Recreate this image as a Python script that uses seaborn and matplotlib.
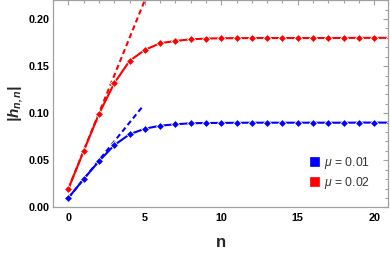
import numpy as np
import pandas as pd
import matplotlib
matplotlib.use("Agg")
import matplotlib.pyplot as plt
import seaborn as sns
from matplotlib.patches import Patch
from matplotlib.ticker import MultipleLocator

sns.set_theme(style="white")
plt.rcParams['font.family'] = ['Liberation Sans', 'DejaVu Sans']
plt.rcParams['mathtext.fontset'] = 'custom'
plt.rcParams['mathtext.it'] = 'Liberation Sans:italic'
plt.rcParams['mathtext.rm'] = 'Liberation Sans'
plt.rcParams['mathtext.bf'] = 'Liberation Sans:bold:italic'

n_vals = list(range(0, 22))
h_mu001 = [0.010, 0.030, 0.049, 0.066, 0.0776, 0.0835, 0.0867, 0.0882, 0.0893, 0.0896,
           0.0897, 0.0898, 0.0899, 0.0899, 0.0899, 0.0899, 0.0899, 0.0899, 0.0899, 0.0900,
           0.0900, 0.0900]
h_mu002 = [0.0195, 0.0598, 0.0991, 0.1318, 0.1555, 0.1672, 0.1743, 0.1767, 0.1785, 0.1792,
           0.1796, 0.1797, 0.1798, 0.1798, 0.1798, 0.1798, 0.1798, 0.1798, 0.1799, 0.1800,
           0.1800, 0.1800]
labels = ["mu001", "mu002"]
legend_labels = [r"$\mu$ = 0.01", r"$\mu$ = 0.02"]
colors = ["#0000ff", "#ff0000"]

# asymptotic (linear) approximations: endpoints
lin_n_001 = [0.0, 4.8]
lin_h_001 = [0.010, 0.106]
lin_n_002 = [0.0, 5.0]
lin_h_002 = [0.020, 0.220]

df = pd.DataFrame({
    "n": n_vals * 2,
    "h": h_mu001 + h_mu002,
    "mu": [labels[0]] * len(n_vals) + [labels[1]] * len(n_vals),
})
df_lin = pd.DataFrame({
    "n": lin_n_001 + lin_n_002,
    "h": lin_h_001 + lin_h_002,
    "mu": [labels[0]] * 2 + [labels[1]] * 2,
})

fig = plt.figure(figsize=(3.9, 2.56), dpi=100)
ax = fig.add_axes([0.136, 0.190, 0.859, 0.810])

sns.lineplot(data=df_lin, x="n", y="h", hue="mu", palette=colors, ax=ax,
             linewidth=1.5, legend=False, dashes=False)
for line in ax.get_lines():
    line.set_dashes([2.5, 1.6])
sns.lineplot(data=df, x="n", y="h", hue="mu", palette=colors, ax=ax,
             linewidth=1.5, marker="D", markersize=4.4, markeredgewidth=0.6,
             legend=False, clip_on=True)

ax.set_xlim(-1, 20.9)
ax.set_ylim(0, 0.2202)
ax.xaxis.set_major_locator(MultipleLocator(5))
ax.xaxis.set_minor_locator(MultipleLocator(1))
ax.yaxis.set_major_locator(MultipleLocator(0.05))
ax.yaxis.set_minor_locator(MultipleLocator(0.01))
ax.yaxis.set_major_formatter(matplotlib.ticker.FormatStrFormatter('%.2f'))

frame_col = "#a0a0a0"
for s in ax.spines.values():
    s.set_color(frame_col)
    s.set_linewidth(0.9)
ax.tick_params(which="both", direction="in", top=True, right=True, color=frame_col,
               width=0.8)
ax.tick_params(which="major", length=3.5, labelsize=7.8, labelcolor="black")
ax.tick_params(which="minor", length=2)
ax.tick_params(axis="y", pad=2.2)
ax.tick_params(axis="x", pad=4)
for lab in ax.get_xticklabels() + ax.get_yticklabels():
    lab.set_fontweight("bold")

ax.set_xlabel("n", fontsize=12, fontweight="bold", labelpad=9)
ax.set_ylabel(r"$\mathbf{|h_{n,n}|}$", fontsize=11, labelpad=3)

handles = [Patch(facecolor=c, edgecolor=c, linewidth=0.5) for c in colors]
leg = ax.legend(handles, legend_labels, loc="lower right", bbox_to_anchor=(0.98, 0.025),
                frameon=False, fontsize=8.8, handlelength=0.75, handleheight=0.75,
                handletextpad=0.45, labelspacing=0.35)
for t in leg.get_texts():
    t.set_color("#333333")

fig.savefig("out.png", dpi=100)
